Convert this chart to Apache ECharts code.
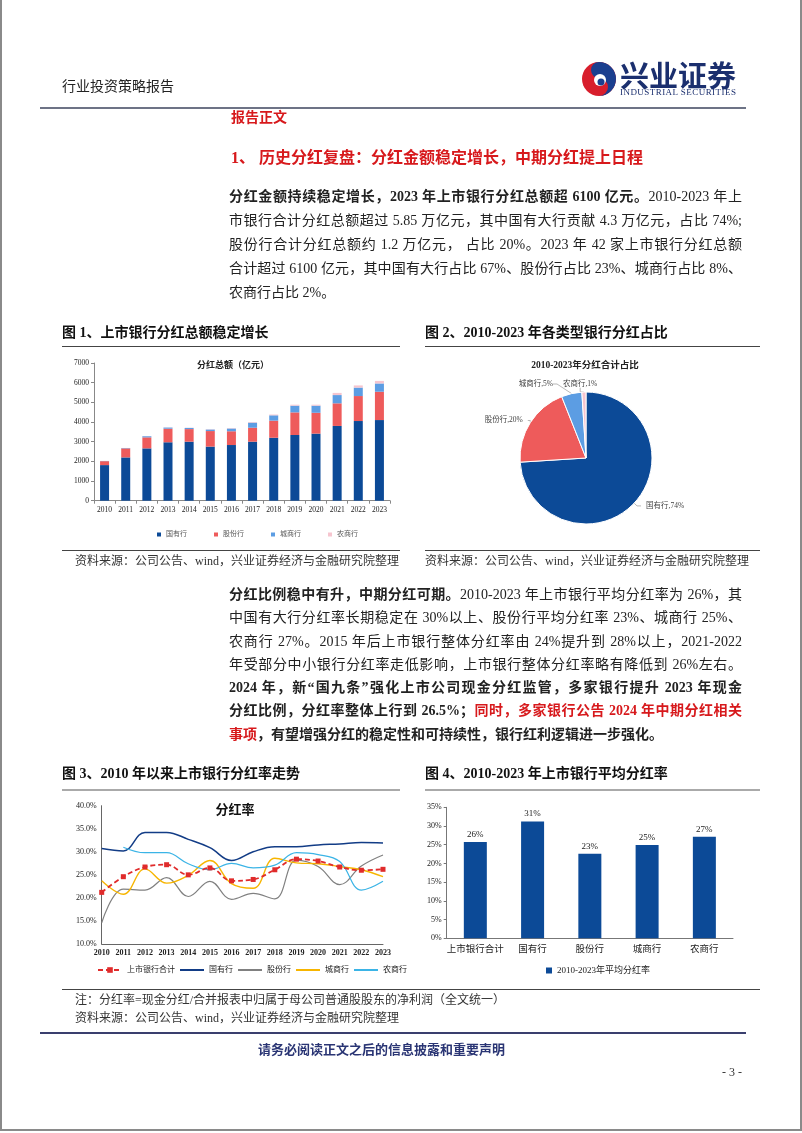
<!DOCTYPE html>
<html><head><meta charset="utf-8">
<script src="https://cdn.jsdelivr.net/npm/echarts@6/dist/echarts.min.js"></script>
<style>
html,body{margin:0;padding:0;background:#fff;}
#page{position:relative;width:802px;height:1133px;overflow:hidden;font-family:"Liberation Serif","Noto Sans CJK SC",serif;color:#222;}
.t{position:absolute;white-space:nowrap;line-height:1;}
.ln{position:absolute;left:229px;width:513px;font-size:14px;line-height:16px;white-space:nowrap;text-align:justify;text-align-last:justify;}
.ln.last{text-align-last:left;}
.red{color:#d7191c;}
.hr{position:absolute;height:0;}
.chart{position:absolute;left:0;top:0;width:802px;height:1133px;}
.frame{position:absolute;left:0;top:0;width:798px;height:1129px;border-left:2px solid #8a8a8a;border-right:2px solid #8a8a8a;border-bottom:2px solid #8a8a8a;}
</style></head>
<body><div id="page">
<div class="frame"></div>
<div id="c1" class="chart"></div>
<div id="c2" class="chart"></div>
<div id="c3" class="chart"></div>
<div id="c4" class="chart"></div>

<div class="t" style="left:62px;top:80px;font-size:14px;color:#222;">行业投资策略报告</div>
<svg style="position:absolute;left:580px;top:60px" width="40" height="40" viewBox="0 0 40 40">
  <circle cx="19" cy="19" r="17" fill="#d81e2c"/>
  <path d="M19 2 A17 17 0 0 1 19 36 A9 9 0 0 0 19 18 A8 8 0 0 1 19 2Z" fill="#1b3f8f"/>
  <circle cx="20" cy="20" r="6" fill="#fff"/>
  <circle cx="21" cy="22" r="3.5" fill="#1b3f8f"/>
</svg>
<div class="t" style="left:620px;top:60px;font-size:29px;font-weight:bold;color:#1b2f6e;font-family:'Noto Sans CJK SC';">兴业证券</div>
<div class="t" style="left:620px;top:88px;font-size:9px;color:#1b2f6e;letter-spacing:0.45px;font-family:'Liberation Serif';">INDUSTRIAL SECURITIES</div>
<div class="hr" style="left:40px;width:706px;top:107px;border-top:2px solid #6d7386;"></div>
<div class="t red" style="left:231px;top:111px;font-size:14px;font-weight:bold;">报告正文</div>
<div class="t red" style="left:231px;top:150px;font-size:16px;font-weight:bold;">1、 历史分红复盘：分红金额稳定增长，中期分红提上日程</div>

<div class="ln" style="top:189px;"><b>分红金额持续稳定增长，2023 年上市银行分红总额超 6100 亿元。</b>2010-2023 年上</div>
<div class="ln" style="top:213px;">市银行合计分红总额超过 5.85 万亿元，其中国有大行贡献 4.3 万亿元，占比 74%;</div>
<div class="ln" style="top:237px;">股份行合计分红总额约 1.2 万亿元， 占比 20%。2023 年 42 家上市银行分红总额</div>
<div class="ln" style="top:261px;">合计超过 6100 亿元，其中国有大行占比 67%、股份行占比 23%、城商行占比 8%、</div>
<div class="ln last" style="top:285px;">农商行占比 2%。</div>

<div class="t" style="left:62px;top:326px;font-size:14px;font-weight:bold;color:#111;">图 1、上市银行分红总额稳定增长</div>
<div class="t" style="left:425px;top:326px;font-size:14px;font-weight:bold;color:#111;">图 2、2010-2023 年各类型银行分红占比</div>
<div class="hr" style="left:62px;width:338px;top:346px;border-top:1.5px solid #444;"></div>
<div class="hr" style="left:425px;width:335px;top:346px;border-top:1.5px solid #444;"></div>
<div class="hr" style="left:62px;width:338px;top:550px;border-top:1.5px solid #444;"></div>
<div class="hr" style="left:425px;width:335px;top:550px;border-top:1.5px solid #444;"></div>
<div class="t" style="left:75px;top:555px;font-size:12px;color:#333;">资料来源：公司公告、wind，兴业证券经济与金融研究院整理</div>
<div class="t" style="left:425px;top:555px;font-size:12px;color:#333;">资料来源：公司公告、wind，兴业证券经济与金融研究院整理</div>

<div class="ln" style="top:587px;"><b>分红比例稳中有升，中期分红可期。</b>2010-2023 年上市银行平均分红率为 26%，其</div>
<div class="ln" style="top:610px;">中国有大行分红率长期稳定在 30%以上、股份行平均分红率 23%、城商行 25%、</div>
<div class="ln" style="top:634px;">农商行 27%。2015 年后上市银行整体分红率由 24%提升到 28%以上，2021-2022</div>
<div class="ln" style="top:657px;">年受部分中小银行分红率走低影响，上市银行整体分红率略有降低到 26%左右。</div>
<div class="ln" style="top:680px;font-weight:bold;">2024 年，新“国九条”强化上市公司现金分红监管，多家银行提升 2023 年现金</div>
<div class="ln" style="top:703px;font-weight:bold;">分红比例，分红率整体上行到 26.5%；<span class="red">同时，多家银行公告 2024 年中期分红相关</span></div>
<div class="ln last" style="top:727px;font-weight:bold;"><span class="red">事项</span>，有望增强分红的稳定性和可持续性，银行红利逻辑进一步强化。</div>

<div class="t" style="left:62px;top:767px;font-size:14px;font-weight:bold;color:#111;">图 3、2010 年以来上市银行分红率走势</div>
<div class="t" style="left:425px;top:767px;font-size:14px;font-weight:bold;color:#111;">图 4、2010-2023 年上市银行平均分红率</div>
<div class="hr" style="left:62px;width:338px;top:789px;border-top:2px solid #aaa;"></div>
<div class="hr" style="left:425px;width:335px;top:789px;border-top:2px solid #aaa;"></div>
<div class="hr" style="left:62px;width:698px;top:989px;border-top:1.5px solid #444;"></div>
<div class="t" style="left:75px;top:994px;font-size:12px;color:#333;">注：分红率=现金分红/合并报表中归属于母公司普通股股东的净利润（全文统一）</div>
<div class="t" style="left:75px;top:1012px;font-size:12px;color:#333;">资料来源：公司公告、wind，兴业证券经济与金融研究院整理</div>

<div class="hr" style="left:40px;width:706px;top:1032px;border-top:2px solid #3a3f6e;"></div>
<div class="t" style="left:258px;top:1043px;font-size:13px;font-weight:bold;color:#2a3574;">请务必阅读正文之后的信息披露和重要声明</div>
<div class="t" style="left:722px;top:1066px;font-size:12px;color:#333;">- 3 -</div>
</div>
<script>
// ---------- data ----------
const years = ['2010','2011','2012','2013','2014','2015','2016','2017','2018','2019','2020','2021','2022','2023'];
const amtGuoyou = [1810,2200,2660,2970,3000,2750,2830,3000,3200,3340,3410,3800,4050,4100];
const amtGufen = [200,460,560,690,640,790,700,710,870,1150,1060,1150,1270,1440];
const amtChengshang = [10,20,60,60,60,80,140,260,270,340,360,420,430,420];
const amtNongshang = [2,3,10,10,10,15,20,30,40,50,50,110,110,130];

const pieNames = ['国有行','股份行','城商行','农商行'];
const pieValues = [74,20,5,1];

const rateTotal = [21.2,24.6,26.7,27.2,25.0,26.5,23.7,24.0,26.1,28.4,28.0,26.7,26.0,26.2];
const rateGuoyou = [30.7,30.2,34.2,34.2,32.7,30.9,28.1,30.0,31.1,31.1,31.5,31.7,32.0,31.9];
const rateGufen = [14.6,21.9,21.7,24.4,20.3,23.6,19.7,21.0,19.8,28.2,26.8,22.9,26.9,29.3];
const rateChengshang = [23.7,20.8,26.3,23.2,24.9,28.1,23.1,22.1,28.6,27.6,27.4,26.8,26.1,24.6];
const rateNongshang = [null,31.0,29.8,29.8,27.4,26.1,27.5,26.5,27.1,29.8,29.4,27.9,21.7,23.6];

const avgCats = ['上市银行合计','国有行','股份行','城商行','农商行'];
const avgRates = [25.7,31.2,22.6,24.9,27.1];

// ---------- styles ----------
const FF = "'Liberation Serif','Noto Sans CJK SC',serif";
const C_GY = '#0c4a97', C_GF = '#ee5b5b', C_CS = '#5c9de3', C_NS = '#f6c5cf';

// ---------- chart 1 ----------
const c1 = echarts.init(document.getElementById('c1'));
c1.setOption({
  animation:false,
  graphic:[{type:'text',x:233,y:366,style:{text:'分红总额（亿元）',font:"bold 9px "+FF,fill:'#222',textAlign:'center',textVerticalAlign:'middle'}}],
  legend:{left:152,top:526,itemWidth:4,itemHeight:4,itemGap:27,icon:'rect',textStyle:{fontSize:7,color:'#555',fontFamily:FF},data:['国有行','股份行','城商行','农商行']},
  grid:{left:94,top:363,width:296,height:137.7,containLabel:false},
  xAxis:{type:'category',data:years,axisLine:{lineStyle:{color:'#888'}},axisTick:{show:true,alignWithLabel:false,length:3,lineStyle:{color:'#888'}},axisLabel:{fontSize:7.5,color:'#222',fontFamily:FF,margin:6}},
  yAxis:{type:'value',min:0,max:7000,interval:1000,splitLine:{show:false},axisLine:{show:true,lineStyle:{color:'#888'}},axisTick:{show:true,length:3,lineStyle:{color:'#888'}},axisLabel:{fontSize:7.5,color:'#222',fontFamily:FF,margin:5,formatter:v=>String(v)}},
  series:[
    {name:'国有行',type:'bar',stack:'a',data:amtGuoyou,barWidth:9,itemStyle:{color:C_GY}},
    {name:'股份行',type:'bar',stack:'a',data:amtGufen,itemStyle:{color:C_GF}},
    {name:'城商行',type:'bar',stack:'a',data:amtChengshang,itemStyle:{color:C_CS}},
    {name:'农商行',type:'bar',stack:'a',data:amtNongshang,itemStyle:{color:C_NS}}
  ]
});

// ---------- chart 2 ----------
const c2 = echarts.init(document.getElementById('c2'));
c2.setOption({
  animation:false,
  graphic:[{type:'text',x:585,y:366,style:{text:'2010-2023年分红合计占比',font:"bold 9.5px "+FF,fill:'#222',textAlign:'center',textVerticalAlign:'middle'}}],
  series:[{
    type:'pie',center:[586,458],radius:[0,66],startAngle:90,clockwise:true,
    itemStyle:{borderColor:'#fff',borderWidth:1},
    label:{formatter:'{b},{d}%',fontSize:7.5,color:'#444',fontFamily:FF},
    labelLine:{length:4,length2:4,lineStyle:{color:'#888',width:0.6}},
    labelLayout:function(p){
      if(p.dataIndex===2) return {x:553,y:384,align:'right',verticalAlign:'middle'};
      if(p.dataIndex===3) return {x:563,y:384,align:'left',verticalAlign:'middle'};
      return {};
    },
    data:pieNames.map((n,i)=>({name:n,value:pieValues[i],itemStyle:{color:[C_GY,C_GF,C_CS,C_NS][i]}}))
  }]
});

// ---------- chart 3 ----------
const c3 = echarts.init(document.getElementById('c3'));
const lineS = (name,data,color,w,extra)=>Object.assign({name,type:'line',data,smooth:0.4,symbol:'none',lineStyle:{color,width:w},itemStyle:{color},connectNulls:false},extra||{});
const hid = {opacity:0};
c3.setOption({
  animation:false,
  graphic:[{type:'text',x:235,y:811,style:{text:'分红率',font:"bold 13px "+FF,fill:'#111',textAlign:'center',textVerticalAlign:'middle'}}],
  legend:{left:92,top:961,itemWidth:24,itemHeight:7,itemGap:4,textStyle:{fontSize:8,color:'#222',fontFamily:FF},
    data:['上市银行合计',{name:'国有行',itemStyle:hid},{name:'股份行',itemStyle:hid},{name:'城商行',itemStyle:hid},{name:'农商行',itemStyle:hid}]},
  grid:{left:101.7,top:805.7,width:281.3,height:138.3,containLabel:false},
  xAxis:{type:'category',boundaryGap:false,data:years,axisLine:{lineStyle:{color:'#666'}},axisTick:{show:false},axisLabel:{fontSize:8,fontWeight:'bold',color:'#222',fontFamily:FF,margin:5}},
  yAxis:{type:'value',min:10,max:40,interval:5,splitLine:{show:false},axisLine:{show:true,lineStyle:{color:'#666'}},axisTick:{show:false},axisLabel:{fontSize:8,color:'#222',fontFamily:FF,margin:5,formatter:v=>v.toFixed(1)+'%'}},
  series:[
    lineS('上市银行合计',rateTotal,'#e02b2b',1.8,{symbol:'rect',symbolSize:5,showSymbol:true,lineStyle:{color:'#e02b2b',width:1.8,type:[5,3]},z:5}),
    lineS('国有行',rateGuoyou,'#123c86',1.5),
    lineS('股份行',rateGufen,'#808080',1.2),
    lineS('城商行',rateChengshang,'#f7b500',1.4),
    lineS('农商行',rateNongshang,'#3bb4e6',1.2)
  ]
});

// ---------- chart 4 ----------
const c4 = echarts.init(document.getElementById('c4'));
c4.setOption({
  animation:false,
  legend:{left:541,top:961,itemWidth:6,itemHeight:6,itemGap:4,icon:'rect',textStyle:{fontSize:9,color:'#222',fontFamily:FF},data:['2010-2023年平均分红率']},
  grid:{left:446.7,top:807.3,width:286.3,height:131,containLabel:false},
  xAxis:{type:'category',data:avgCats,axisLine:{lineStyle:{color:'#777'}},axisTick:{show:false},axisLabel:{interval:0,fontSize:9.5,color:'#222',fontFamily:FF,margin:6}},
  yAxis:{type:'value',min:0,max:35,interval:5,splitLine:{show:false},axisLine:{show:true,lineStyle:{color:'#777'}},axisTick:{show:true,length:3,lineStyle:{color:'#777'}},axisLabel:{fontSize:8,color:'#222',fontFamily:FF,margin:5,formatter:'{value}%'}},
  series:[{name:'2010-2023年平均分红率',type:'bar',data:avgRates,barWidth:23,itemStyle:{color:C_GY},
    label:{show:true,position:'top',fontSize:9,color:'#222',fontFamily:FF,distance:3,formatter:p=>Math.round(p.value)+'%'}}]
});
</script>
</body></html>
